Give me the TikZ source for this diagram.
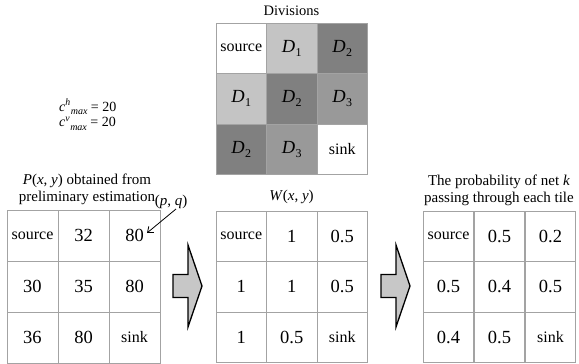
\documentclass[tikz,border=0pt]{standalone}
\usepackage{fontspec}
\setmainfont{LiberationSerif}[Extension=.ttf, UprightFont=*-Regular, ItalicFont=*-Italic, BoldFont=*-Bold]
\usepackage{tikz}
\usetikzlibrary{arrows.meta}
\definecolor{lightdiv}{gray}{0.77}
\definecolor{middiv}{gray}{0.60}
\definecolor{darkdiv}{gray}{0.50}
\definecolor{gridgray}{gray}{0.64}
\definecolor{arrowgray}{gray}{0.78}
\newcommand{\srcc}{{\fontsize{16}{16}\selectfont source}}
\newcommand{\snk}{{\fontsize{16}{16}\selectfont sink}}
\newcommand{\dsub}[1]{\textit{D}\kern0.3pt\raisebox{-0.45ex}{\fontsize{12}{12}\selectfont #1}}
\newcommand{\cmax}[1]{\textit{c}\textsuperscript{\textit{#1}}\raisebox{-0.6ex}{\fontsize{10}{10}\selectfont\textit{max}} = 20}

\begin{document}
\begin{tikzpicture}[x=1pt, y=-1pt,
    cell/.style={draw=gridgray, line width=0.9pt, minimum size=51pt, inner sep=0pt, font=\fontsize{18.5}{18.5}\selectfont},
    dcell/.style={cell, minimum size=50.5pt},
    caption/.style={font=\fontsize{15}{17}\selectfont, align=center, inner sep=0pt},
    blockarrow/.style={draw=black, line width=1.3pt, fill=arrowgray, line join=miter}]
  \useasboundingbox (0,0) rectangle (579,364);

  % divisions
  \node[caption, font=\fontsize{14.5}{16}\selectfont] (divtitle) at (291.5,11) {Divisions};
  \foreach \r/\c/\f/\t in {1/1/white/\srcc, 1/2/lightdiv/\dsub{1}, 1/3/darkdiv/\dsub{2},
      2/1/lightdiv/\dsub{1}, 2/2/darkdiv/\dsub{2}, 2/3/middiv/\dsub{3},
      3/1/darkdiv/\dsub{2}, 3/2/middiv/\dsub{3}, 3/3/white/\snk}
    \node[dcell, fill=\f] (dv-\r-\c) at ({190.75+50.5*\c}, {-2.25+50.5*\r}) {\t};

  % capacities
  \node[anchor=west, inner sep=0pt, font=\fontsize{14}{16}\selectfont] (ch) at (59,107) {\cmax{h}};
  \node[anchor=west, inner sep=0pt, font=\fontsize{14}{16}\selectfont] (cv) at (59,124) {\cmax{v}};

  % P(x, y)
  \node[caption] (ptitle) at (87,189) {\textit{P}(\textit{x}, \textit{y}) obtained from\\preliminary estimation};
  \foreach \a/\b/\c [count=\r] in {\srcc/32/80, 30/35/80, 36/80/\snk} {
    \node[cell] (pr-\r-1) at (32.5, {184.5+51*\r}) {\a};
    \node[cell] (pr-\r-2) at (83.5, {184.5+51*\r}) {\b};
    \node[cell] (pr-\r-3) at (134.5, {184.5+51*\r}) {\c};
  }
  \node[caption] (pq) at (171,202) {(\textit{p}, \textit{q})};
  \coordinate (pqtip) at (147,233);
  \draw[line width=0.8pt, -{Straight Barb[length=5pt,width=8pt]}] ([xshift=5pt]pq.south) -- (pqtip);

  % W(x, y)
  \node[caption] (wtitle) at (291.5,197) {\textit{W}(\textit{x}, \textit{y})};
  \foreach \a/\b/\c [count=\r] in {\srcc/1/0.5, 1/1/0.5, 1/0.5/\snk} {
    \node[dcell] (w-\r-1) at (241.25, {185.75+50.5*\r}) {\a};
    \node[dcell] (w-\r-2) at (291.75, {185.75+50.5*\r}) {\b};
    \node[dcell] (w-\r-3) at (342.25, {185.75+50.5*\r}) {\c};
  }

  % probability
  \node[caption] (pbtitle) at (499,190) {The probability of net \textit{k}\\passing through each tile};
  \foreach \a/\b/\c [count=\r] in {\srcc/0.5/0.2, 0.5/0.4/0.5, 0.4/0.5/\snk} {
    \node[dcell] (pb-\r-1) at (448.5, {185.75+50.5*\r}) {\a};
    \node[dcell] (pb-\r-2) at (499.5, {185.75+50.5*\r}) {\b};
    \node[dcell] (pb-\r-3) at (550.5, {185.75+50.5*\r}) {\c};
  }

  % block arrows
  \foreach \s in {173,381}
    \draw[blockarrow, xshift=\s] (0,274.5) -- (15,274.5) -- (15,245) -- (29,286)
      -- (15,327) -- (15,297.5) -- (0,297.5) -- cycle;
\end{tikzpicture}
\end{document}
